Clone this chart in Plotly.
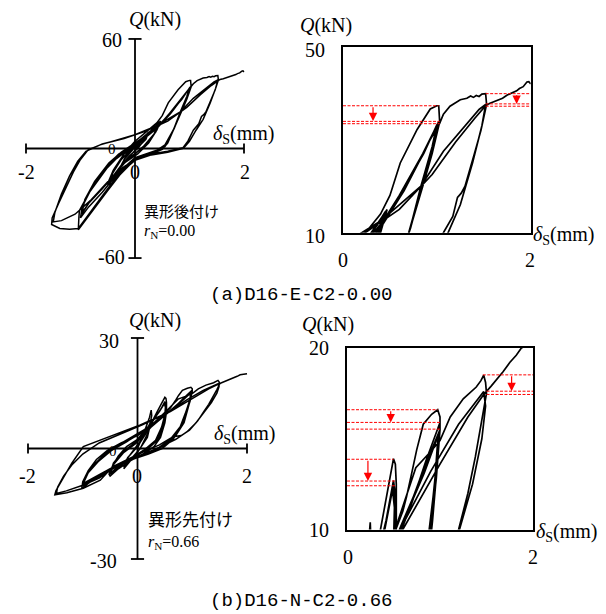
import plotly.graph_objects as go

W, H = 606, 614

# ---------------- Specimen (a) D16-E-C2-0.00 : delta_s (mm), Q (kN) ----------------
A_small_x = [0.0, 0.12, 0.25, 0.18, 0.05, -0.1, -0.25, -0.18, -0.05, 0.1, 0.25, 0.2, 0.0, -0.25, -0.2, -0.05,
             0.1, 0.3, 0.47, 0.4, 0.25, 0.05, -0.2, -0.4, -0.5, -0.42, -0.25, -0.05, 0.1, 0.3, 0.46, 0.38, 0.2,
             0.0, -0.25, -0.5, -0.4, -0.2,
             0.05, 0.25, 0.45, 0.35, 0.15, -0.05, -0.3, -0.48, -0.38, -0.18]
A_small_q = [0.0, 4, 9, 5, 0, -4, -9, -5, 0, 4, 9, 5, -1, -10, -6, -1,
             5, 10, 15, 10, 3, -3, -8, -15, -20, -14, -6, 0, 5, 10, 14, 9, 2,
             -3, -9, -19, -12, -3,
             2, 8, 14.5, 8, 1, -4, -11, -20, -11, -2]

A_c10_x = [0.0, 0.2, 0.4, 0.5, 0.61, 0.79, 0.93, 1.0, 1.02, 1.03, 0.95, 0.85, 0.7, 0.6, 0.5, 0.3, 0.0, -0.28,
           -0.5, -0.65, -0.85, -1.0, -1.04, -1.03, -1.02, -0.83, -0.52, -0.34, -0.13,
           0.1, 0.35, 0.6, 0.85, 1.0, 1.02, 0.95, 0.8, 0.7, 0.55, 0.4, 0.2, 0.0, -0.3, -0.6, -0.85, -1.0,
           -0.97, -0.8, -0.5, -0.3, -0.1,
           0.15, 0.4, 0.65, 0.88, 1.01, 0.96, 0.85, 0.72, 0.55, 0.35, 0.05, -0.3, -0.6, -0.85, -0.98,
           -0.93, -0.75, -0.5, -0.3,
           0.1, 0.38, 0.62, 0.86, 1.0, 0.95, 0.83, 0.71, 0.56, 0.38, 0.1, -0.25, -0.55, -0.8, -0.97,
           -0.92, -0.74, -0.48, -0.25]
A_c10_q = [4, 9, 14, 18, 25, 32.2, 36.6, 37.3, 37.3, 33.8, 27, 20, 10, 3, -0.5, -3, -6, -14.5,
           -23, -29, -37, -43, -44.5, -38, -34, -23.7, -11, -5.5, -0.7,
           4, 10, 18, 27, 33, 33.9, 28, 17, 10, 2, -1, -3, -5, -13, -24, -32, -38,
           -32, -22, -10, -4, 0,
           5, 11, 19, 28, 33.5, 29, 21, 11, 1, -2, -5, -12, -22, -30, -36,
           -29, -19, -9, -3,
           4, 10.5, 18.5, 27, 33.2, 28.5, 20, 10.5, 1.5, -1.5, -4.5, -11, -20, -28, -35,
           -28, -18, -8, -2]

A_c15_x = [-0.1, 0.2, 0.45, 0.7, 0.9, 1.03, 1.07, 1.14, 1.25, 1.32, 1.36, 1.39, 1.42, 1.45, 1.48, 1.52,
           1.53, 1.47, 1.4, 1.3, 1.26, 1.22, 1.17, 1.07, 0.97, 0.87, 0.6, 0.3, 0.0, -0.3, -0.6, -0.85,
           -1.04, -1.2, -1.38, -1.53, -1.52, -1.4, -1.25, -1.13, -1.0, -0.86, -0.64, -0.3, 0.0, 0.4,
           0.83, 1.07, 1.3, 1.45, 1.52,
           1.48, 1.38, 1.25, 1.12, 1.0, 0.9, 0.6, 0.3, 0.0, -0.4, -0.8, -1.1, -1.35, -1.5, -1.47,
           -1.35, -1.2, -1.05, -0.9, -0.6, -0.2, 0.2, 0.6, 0.95, 1.2, 1.4, 1.52]
A_c15_q = [1, 7, 13, 21, 29, 33.5, 35.5, 37.2, 38.6, 38.9, 39.4, 39.1, 39.5, 39.3, 39.8, 39.9,
           37.6, 32, 27, 20, 18.5, 17.6, 13.5, 10, 4, 0, -2, -3.5, -6.5, -14, -26, -36,
           -43.8, -44.2, -43.8, -41.6, -38, -30, -20, -12.8, -6, -0.7, 2, 5, 7.5, 12.5,
           20, 27.5, 33, 36.5, 37.6,
           33, 25, 16, 10, 4, 0.5, -1.5, -3, -6, -15, -28, -36, -39.5, -40.2, -35,
           -25, -15, -7, -1.5, 2.5, 5.5, 9.5, 15, 22.5, 29.5, 34.5, 37.3]

A_fin_x = [1.56, 1.62, 1.7, 1.75, 1.8, 1.85, 1.88, 1.92, 1.96, 1.98, 2.0]
A_fin_q = [37.8, 38.2, 38.9, 39.6, 40.1, 40.5, 41.0, 41.4, 42.4, 42.5, 42.0]

A_xlim = [-2, 2]
A_qlim = [-60, 60]
A_zoom_x = [0, 2]
A_zoom_q = [10, 50]
# red reference lines (zoomed panel): start x, end x, level Q
A_ref_x0 = [0, 0, 0, 1.52, 1.52, 1.52]
A_ref_x1 = [1.02, 1.03, 1.03, 2, 2, 2]
A_ref_q = [37.3, 33.94, 33.44, 39.9, 37.7, 37.2]
A_arr_x = [0.32, 1.85]
A_arr_from = [37.3, 39.9]
A_arr_to = [34.0, 37.7]

# ---------------- Specimen (b) D16-N-C2-0.66 ----------------
B_small_x = [0.0, 0.1, 0.22, 0.25, 0.26, 0.2, 0.05, -0.1, -0.25, -0.2, -0.05, 0.1, 0.25, 0.18, 0.0, -0.25, -0.18, 0.0]
B_small_q = [0.0, 3.5, 8.5, 10.4, 9.0, 4.5, 0.0, -2.5, -5.0, -3.0, 0.0, 3.0, 7.5, 3.0, -1.0, -5.5, -2.5, 0.5]

B_c05_x = [0.15, 0.3, 0.36, 0.43, 0.48, 0.5, 0.52, 0.53, 0.53, 0.5, 0.42, 0.3, 0.1, -0.15, -0.35, -0.5, -0.52, -0.45, -0.35, -0.2,
           0.0, 0.2, 0.35, 0.42, 0.5, 0.53, 0.52, 0.47, 0.38, 0.2, -0.1, -0.3, -0.5, -0.45, -0.3, -0.1,
           0.1, 0.3, 0.4, 0.5, 0.52, 0.51, 0.45, 0.35, 0.15, -0.15, -0.35, -0.5, -0.44, -0.28, -0.05,
           0.15, 0.33, 0.41, 0.49, 0.51, 0.5, 0.44, 0.33, 0.12, -0.18, -0.38, -0.5, -0.43, -0.26, -0.03]
B_c05_q = [4, 8, 10, 12, 13.5, 13.9, 13.6, 12.5, 10, 7, 3, 0.5, -1.5, -3.5, -5.5, -7.5, -7, -4.5, -2, 0.5,
           2.5, 6, 9, 10.5, 12.7, 11.5, 9, 6, 2.5, 0, -2.5, -4.5, -7, -4.5, -1.5, 1,
           4, 8, 10, 12.4, 11, 9, 5.5, 2, -0.5, -3, -5, -6.8, -4, -1, 1.5,
           4.5, 8.5, 10.1, 12.2, 11.2, 9.2, 5.8, 2.2, -0.4, -3.2, -5.2, -6.9, -4.2, -1.2, 1.4]

B_c10_x = [0.2, 0.45, 0.6, 0.64, 0.7, 0.75, 0.82, 0.91, 0.975, 1.0, 1.0, 0.95, 0.89, 0.8, 0.65, 0.45, 0.2, -0.1, -0.4,
           -0.7, -0.9, -1.02, -1.0, -0.9, -0.75, -0.55, -0.3,
           0.0, 0.3, 0.55, 0.7, 0.85, 1.0, 0.97, 0.92, 0.85, 0.7, 0.5, 0.2, -0.15, -0.5, -0.8, -1.0, -0.95, -0.8, -0.6, -0.35,
           -0.05, 0.25, 0.5, 0.62, 0.8, 1.0, 0.96, 0.9, 0.82, 0.66, 0.45, 0.15, -0.2, -0.55, -0.85, -1.0, -0.93, -0.77, -0.55, -0.3,
           0.2, 0.45, 0.58, 0.78, 0.99, 0.95, 0.88, 0.8, 0.64, 0.42, 0.12, -0.25, -0.6, -0.88, -1.0, -0.92, -0.75, -0.5, -0.25,
           0.0, 0.3, 0.52, 0.66, 0.83, 0.98, 0.94, 0.87, 0.78, 0.6, 0.38, 0.08, -0.3, -0.65, -0.9, -0.99, -0.9, -0.72, -0.48, -0.2]
B_c10_q = [5, 9, 11, 11.8, 13.2, 14.4, 15.8, 16.35, 16.6, 16.2, 15.5, 13, 10, 6, 2.5, 0, -1.5, -3, -5,
           -7.5, -9.5, -11, -9, -6, -3, -0.5, 1.5,
           3.5, 6.5, 9.5, 11.5, 13.8, 15.9, 13.5, 10.5, 7, 3.5, 1, -1, -3, -5.5, -8, -10.2, -7.5, -4.5, -1.5, 1,
           3.5, 6.2, 9, 10.5, 13, 15.5, 12.8, 10, 6.5, 3, 0.5, -1.5, -3.5, -6, -8.5, -9.8, -7, -4, -1, 1.2,
           5.2, 8.5, 10.2, 12.6, 15.3, 12.5, 9.6, 6.2, 2.8, 0.3, -1.8, -3.8, -6.3, -8.7, -9.6, -6.8, -3.8, -0.8, 1.4,
           3.6, 6.8, 9.4, 11, 13.1, 15.2, 12.4, 9.4, 5.9, 2.5, 0.2, -2, -4.2, -6.7, -8.8, -9.5, -6.6, -3.6, -0.6, 1.8]

B_c15_x = [0.0, 0.3, 0.55, 0.74, 0.9, 1.0, 1.11, 1.25, 1.39, 1.44, 1.47, 1.49, 1.5, 1.45, 1.38, 1.3, 1.21, 1.1, 0.95,
           0.8, 0.65, 0.4, 0.1, -0.08, -0.45, -0.68, -0.99, -1.29, -1.51, -1.49, -1.45, -1.2, -0.99, -0.68, -0.26,
           0.05, 0.53, 0.9, 1.2, 1.38, 1.47,
           1.49, 1.45, 1.35, 1.2, 1.07, 0.9, 0.7, 0.4, 0.1, -0.3, -0.7, -1.0, -1.3, -1.48, -1.46, -1.35, -1.2, -1.0,
           -0.7, -0.3, 0.1, 0.6, 1.0, 1.3, 1.47]
B_c15_q = [3.8, 7, 10.5, 13.4, 14.3, 14.9, 16.2, 17.2, 17.85, 18.2, 18.5, 18.1, 17.5, 16, 14, 12, 10, 7.5, 5,
           3.5, 3.2, 1, -1, -2.2, -4.9, -8.6, -10.8, -12, -12.6, -11.5, -10.4, -4, 0.5, 2.3, 4.6,
           6.4, 9.6, 13.2, 15.8, 17.0, 17.6,
           16.8, 15, 12.5, 9.5, 7, 4.5, 2.5, 0.3, -1.5, -4, -8, -10, -11.5, -12.2, -10.5, -7.5, -4.5, -1.5,
           1.5, 4, 6.5, 10, 13.6, 16.2, 17.44]

B_fin_x = [1.55, 1.6, 1.68, 1.75, 1.82, 1.875, 1.95, 2.0]
B_fin_q = [17.9, 18.2, 18.7, 19.2, 19.6, 20.0, 20.2, 20.3]

B_xlim = [-2, 2]
B_qlim = [-30, 30]
B_zoom_x = [0, 2]
B_zoom_q = [10, 20]
B_ref_x0 = [0, 0, 0, 0, 0, 0, 1.46, 1.5, 1.5]
B_ref_x1 = [0.5, 0.53, 0.53, 0.975, 1.0, 1.0, 2, 2, 2]
B_ref_q = [13.87, 12.67, 12.41, 16.6, 15.9, 15.53, 18.52, 17.62, 17.44]
B_arr_x = [0.225, 0.47, 1.77]
B_arr_from = [13.87, 16.6, 18.52]
B_arr_to = [12.67, 15.9, 17.62]

CAPTIONS = ["(a)D16-E-C2-0.00", "(b)D16-N-C2-0.66"]
LABELS_JP = ["異形後付け", "異形先付け"]
RN = ["0.00", "0.66"]

A_x = A_small_x + A_c10_x + A_c15_x + A_fin_x
A_q = A_small_q + A_c10_q + A_c15_q + A_fin_q
B_x = B_small_x + B_c05_x + B_c10_x + B_c15_x + B_fin_x
B_q = B_small_q + B_c05_q + B_c10_q + B_c15_q + B_fin_q


def pxx(x):
    return x / W


def pyy(y):
    return 1 - y / H


SERIF = "Liberation Serif"
fig = go.Figure()

# hysteresis traces
for xs, qs, ax, w in [(A_x, A_q, 1, 1.5), (A_x, A_q, 2, 1.7), (B_x, B_q, 3, 1.5), (B_x, B_q, 4, 1.7)]:
    fig.add_trace(go.Scatter(x=xs, y=qs, mode="lines", line=dict(color="black", width=w),
                             xaxis="x" if ax == 1 else f"x{ax}", yaxis="y" if ax == 1 else f"y{ax}",
                             hoverinfo="skip", showlegend=False))

hidden = dict(visible=False, fixedrange=True)
boxed = dict(showline=True, mirror=True, linecolor="black", linewidth=1.6, showgrid=False, zeroline=False,
             showticklabels=False, ticks="", fixedrange=True)

fig.update_layout(
    width=W, height=H, margin=dict(l=0, r=0, t=0, b=0),
    paper_bgcolor="white", plot_bgcolor="rgba(0,0,0,0)", showlegend=False,
    xaxis=dict(domain=[pxx(15.1), pxx(254.9)], range=[-2.2, 2.2], anchor="y", **hidden),
    yaxis=dict(domain=[pyy(269), pyy(28)], range=[-66, 66], anchor="x", **hidden),
    xaxis2=dict(domain=[pxx(343), pxx(530.7)], range=A_zoom_x, anchor="y2", **boxed),
    yaxis2=dict(domain=[pyy(232.7), pyy(46.7)], range=A_zoom_q, anchor="x2", **boxed),
    xaxis3=dict(domain=[pxx(17.05), pxx(257.95)], range=[-2.2, 2.2], anchor="y3", **hidden),
    yaxis3=dict(domain=[pyy(570.05), pyy(326.95)], range=[-33, 33], anchor="x3", **hidden),
    xaxis4=dict(domain=[pxx(347), pxx(533)], range=B_zoom_x, anchor="y4", **boxed),
    yaxis4=dict(domain=[pyy(529.5), pyy(348)], range=B_zoom_q, anchor="x4", **boxed),
)

shapes = []
# cross axes on the full-loop panels
for xr, yr, xl, ql, tq, tx in [("x", "y", A_xlim, A_qlim, 2.74, 0.12), ("x3", "y3", B_xlim, B_qlim, 1.36, 0.12)]:
    ln = dict(color="black", width=1.8)
    shapes.append(dict(type="line", xref=xr, yref=yr, x0=xl[0], x1=xl[1], y0=0, y1=0, line=ln))
    shapes.append(dict(type="line", xref=xr, yref=yr, x0=0, x1=0, y0=ql[0], y1=ql[1], line=ln))
    for xv in xl:
        shapes.append(dict(type="line", xref=xr, yref=yr, x0=xv, x1=xv, y0=-tq, y1=tq, line=ln))
    for qv in ql:
        shapes.append(dict(type="line", xref=xr, yref=yr, x0=-tx, x1=tx, y0=qv, y1=qv, line=ln))

# red reference lines
for xr, yr, x0s, x1s, qs in [("x2", "y2", A_ref_x0, A_ref_x1, A_ref_q), ("x4", "y4", B_ref_x0, B_ref_x1, B_ref_q)]:
    for a, b, q in zip(x0s, x1s, qs):
        shapes.append(dict(type="line", xref=xr, yref=yr, x0=a, x1=b, y0=q, y1=q,
                           line=dict(color="red", width=1, dash="3px,1.5px")))
fig.update_layout(shapes=shapes)

ann = []
for xr, yr, xs, q0s, q1s in [("x2", "y2", A_arr_x, A_arr_from, A_arr_to), ("x4", "y4", B_arr_x, B_arr_from, B_arr_to)]:
    for xv, qa, qb in zip(xs, q0s, q1s):
        ann.append(dict(x=xv, y=qb, ax=xv, ay=qa, xref=xr, yref=yr, axref=xr, ayref=yr, text="",
                        showarrow=True, arrowhead=2, arrowsize=1.4, arrowwidth=1.2, arrowcolor="red", standoff=0))


def lab(text, x, y, size=20, family=SERIF, xanchor="center", yanchor="middle"):
    ann.append(dict(text=text, x=pxx(x), y=pyy(y), xref="paper", yref="paper", showarrow=False,
                    xanchor=xanchor, yanchor=yanchor, font=dict(family=family, size=size, color="black")))


QLAB = "<i>Q</i>(kN)"
DLAB = "<i>δ</i><sub>S</sub>(mm)"

# panel (a) full
lab(QLAB, 127, 19, xanchor="left")
lab(str(A_qlim[1]), 124, 40, xanchor="right")
lab(str(A_qlim[0]), 127, 257, xanchor="right")
lab(str(A_xlim[0]), 26, 172)
lab("0", 135, 172)
lab(str(A_xlim[1]), 245, 172)
lab(DLAB, 211, 134, xanchor="left")
lab("0", 111.5, 149, size=15)
lab(LABELS_JP[0], 142, 211, size=15, family="Noto Sans CJK JP", xanchor="left")
lab("<i>r</i><sub>N</sub>=" + RN[0], 142, 232, size=16, xanchor="left")
# panel (a) zoom
lab(QLAB, 298, 25, xanchor="left")
lab(str(A_zoom_q[1]), 315, 50)
lab(str(A_zoom_q[0]), 315, 236)
lab(str(A_zoom_x[0]), 343, 260)
lab(str(A_zoom_x[1]), 530, 260)
lab(DLAB, 531, 236, xanchor="left")
# panel (b) full
lab(QLAB, 127, 320, xanchor="left")
lab(str(B_qlim[1]), 121, 341, xanchor="right")
lab(str(B_qlim[0]), 119, 561, xanchor="right")
lab(str(B_xlim[0]), 27, 476)
lab("0", 137, 476)
lab(str(B_xlim[1]), 247, 476)
lab(DLAB, 212, 434, xanchor="left")
lab("0", 113, 451, size=15)
lab(LABELS_JP[1], 146, 518, size=17, family="Noto Sans CJK JP", xanchor="left")
lab("<i>r</i><sub>N</sub>=" + RN[1], 146, 542, size=16, xanchor="left")
# panel (b) zoom
lab(QLAB, 300, 324, xanchor="left")
lab(str(B_zoom_q[1]), 319, 348)
lab(str(B_zoom_q[0]), 319, 530)
lab(str(B_zoom_x[0]), 348, 557)
lab(str(B_zoom_x[1]), 533, 557)
lab(DLAB, 534, 532, xanchor="left")
# captions
lab(CAPTIONS[0], 301, 295, size=19, family="Liberation Mono")
lab(CAPTIONS[1], 301, 601, size=19, family="Liberation Mono")

fig.update_layout(annotations=ann)
fig.write_html("out.html", config={"displayModeBar": False},
               post_script="document.body.style.margin='0';document.body.style.overflow='hidden';")
